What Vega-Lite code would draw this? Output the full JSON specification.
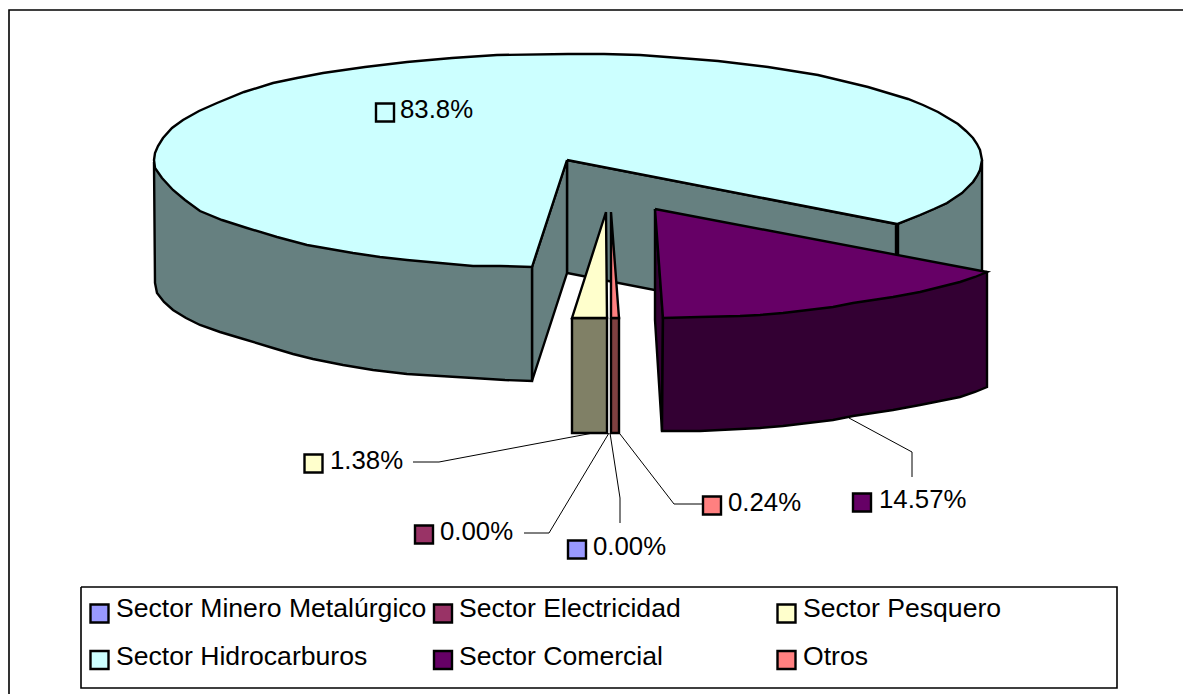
{
"$schema":"https://vega.github.io/schema/vega-lite/v6.json",
"width":1183,"height":694,
"autosize":{"type":"none"},
"padding":0,
"background":"white",
"config":{"view":{"stroke":null}},
"datasets":{
"pie":[
{"s":"a","f":"Hidrocarburos lateral","i":0,"x":898,"y":224},{"s":"a","f":"Hidrocarburos lateral","i":1,"x":920,"y":215},{"s":"a","f":"Hidrocarburos lateral","i":2,"x":947,"y":203},{"s":"a","f":"Hidrocarburos lateral","i":3,"x":973,"y":182},{"s":"a","f":"Hidrocarburos lateral","i":4,"x":980,"y":170},{"s":"a","f":"Hidrocarburos lateral","i":5,"x":982,"y":160},{"s":"a","f":"Hidrocarburos lateral","i":6,"x":982,"y":273},{"s":"a","f":"Hidrocarburos lateral","i":7,"x":973,"y":295},{"s":"a","f":"Hidrocarburos lateral","i":8,"x":947,"y":316},{"s":"a","f":"Hidrocarburos lateral","i":9,"x":920,"y":328},{"s":"a","f":"Hidrocarburos lateral","i":10,"x":898,"y":337},{"s":"a","f":"Hidrocarburos lateral","i":11,"x":898,"y":224},
{"s":"b","f":"Hidrocarburos lateral","i":0,"x":567,"y":160},{"s":"b","f":"Hidrocarburos lateral","i":1,"x":896,"y":224},{"s":"b","f":"Hidrocarburos lateral","i":2,"x":896,"y":337},{"s":"b","f":"Hidrocarburos lateral","i":3,"x":567,"y":273},{"s":"b","f":"Hidrocarburos lateral","i":4,"x":567,"y":160},
{"s":"c","f":"Hidrocarburos lateral","i":0,"x":532,"y":267},{"s":"c","f":"Hidrocarburos lateral","i":1,"x":567,"y":160},{"s":"c","f":"Hidrocarburos lateral","i":2,"x":567,"y":273},{"s":"c","f":"Hidrocarburos lateral","i":3,"x":532,"y":381},{"s":"c","f":"Hidrocarburos lateral","i":4,"x":532,"y":267},
{"s":"d","f":"Hidrocarburos lateral","i":0,"x":154,"y":162},{"s":"d","f":"Hidrocarburos lateral","i":1,"x":155,"y":283},{"s":"d","f":"Hidrocarburos lateral","i":2,"x":157,"y":293},{"s":"d","f":"Hidrocarburos lateral","i":3,"x":164,"y":302},{"s":"d","f":"Hidrocarburos lateral","i":4,"x":173,"y":310},{"s":"d","f":"Hidrocarburos lateral","i":5,"x":186,"y":318},{"s":"d","f":"Hidrocarburos lateral","i":6,"x":200,"y":325},{"s":"d","f":"Hidrocarburos lateral","i":7,"x":220,"y":332},{"s":"d","f":"Hidrocarburos lateral","i":8,"x":240,"y":338},{"s":"d","f":"Hidrocarburos lateral","i":9,"x":273,"y":348},{"s":"d","f":"Hidrocarburos lateral","i":10,"x":293,"y":354},{"s":"d","f":"Hidrocarburos lateral","i":11,"x":313,"y":359},{"s":"d","f":"Hidrocarburos lateral","i":12,"x":343,"y":365},{"s":"d","f":"Hidrocarburos lateral","i":13,"x":373,"y":370},{"s":"d","f":"Hidrocarburos lateral","i":14,"x":407,"y":374},{"s":"d","f":"Hidrocarburos lateral","i":15,"x":440,"y":376},{"s":"d","f":"Hidrocarburos lateral","i":16,"x":473,"y":378},{"s":"d","f":"Hidrocarburos lateral","i":17,"x":505,"y":380},{"s":"d","f":"Hidrocarburos lateral","i":18,"x":532,"y":381},{"s":"d","f":"Hidrocarburos lateral","i":19,"x":532,"y":267},{"s":"d","f":"Hidrocarburos lateral","i":20,"x":154,"y":162},
{"s":"e","f":"Sector Hidrocarburos","i":0,"x":567,"y":160},{"s":"e","f":"Sector Hidrocarburos","i":1,"x":532,"y":267},{"s":"e","f":"Sector Hidrocarburos","i":2,"x":500,"y":266},{"s":"e","f":"Sector Hidrocarburos","i":3,"x":473,"y":266},{"s":"e","f":"Sector Hidrocarburos","i":4,"x":440,"y":263},{"s":"e","f":"Sector Hidrocarburos","i":5,"x":407,"y":260},{"s":"e","f":"Sector Hidrocarburos","i":6,"x":380,"y":257},{"s":"e","f":"Sector Hidrocarburos","i":7,"x":353,"y":253},{"s":"e","f":"Sector Hidrocarburos","i":8,"x":330,"y":249},{"s":"e","f":"Sector Hidrocarburos","i":9,"x":307,"y":245},{"s":"e","f":"Sector Hidrocarburos","i":10,"x":277,"y":237},{"s":"e","f":"Sector Hidrocarburos","i":11,"x":247,"y":228},{"s":"e","f":"Sector Hidrocarburos","i":12,"x":222,"y":220},{"s":"e","f":"Sector Hidrocarburos","i":13,"x":200,"y":211},{"s":"e","f":"Sector Hidrocarburos","i":14,"x":185,"y":200},{"s":"e","f":"Sector Hidrocarburos","i":15,"x":173,"y":190},{"s":"e","f":"Sector Hidrocarburos","i":16,"x":162,"y":178},{"s":"e","f":"Sector Hidrocarburos","i":17,"x":155,"y":168},{"s":"e","f":"Sector Hidrocarburos","i":18,"x":154,"y":160},{"s":"e","f":"Sector Hidrocarburos","i":19,"x":155,"y":153},{"s":"e","f":"Sector Hidrocarburos","i":20,"x":158,"y":146},{"s":"e","f":"Sector Hidrocarburos","i":21,"x":163,"y":138},{"s":"e","f":"Sector Hidrocarburos","i":22,"x":172,"y":128},{"s":"e","f":"Sector Hidrocarburos","i":23,"x":183,"y":120},{"s":"e","f":"Sector Hidrocarburos","i":24,"x":199,"y":111},{"s":"e","f":"Sector Hidrocarburos","i":25,"x":217,"y":103},{"s":"e","f":"Sector Hidrocarburos","i":26,"x":244,"y":92},{"s":"e","f":"Sector Hidrocarburos","i":27,"x":273,"y":83},{"s":"e","f":"Sector Hidrocarburos","i":28,"x":297,"y":78},{"s":"e","f":"Sector Hidrocarburos","i":29,"x":323,"y":73},{"s":"e","f":"Sector Hidrocarburos","i":30,"x":365,"y":67},{"s":"e","f":"Sector Hidrocarburos","i":31,"x":407,"y":62},{"s":"e","f":"Sector Hidrocarburos","i":32,"x":452,"y":58},{"s":"e","f":"Sector Hidrocarburos","i":33,"x":497,"y":55},{"s":"e","f":"Sector Hidrocarburos","i":34,"x":568,"y":54},{"s":"e","f":"Sector Hidrocarburos","i":35,"x":604,"y":54},{"s":"e","f":"Sector Hidrocarburos","i":36,"x":640,"y":55},{"s":"e","f":"Sector Hidrocarburos","i":37,"x":680,"y":58},{"s":"e","f":"Sector Hidrocarburos","i":38,"x":718,"y":61},{"s":"e","f":"Sector Hidrocarburos","i":39,"x":743,"y":64},{"s":"e","f":"Sector Hidrocarburos","i":40,"x":768,"y":67},{"s":"e","f":"Sector Hidrocarburos","i":41,"x":793,"y":71},{"s":"e","f":"Sector Hidrocarburos","i":42,"x":818,"y":75},{"s":"e","f":"Sector Hidrocarburos","i":43,"x":843,"y":81},{"s":"e","f":"Sector Hidrocarburos","i":44,"x":868,"y":87},{"s":"e","f":"Sector Hidrocarburos","i":45,"x":888,"y":93},{"s":"e","f":"Sector Hidrocarburos","i":46,"x":908,"y":99},{"s":"e","f":"Sector Hidrocarburos","i":47,"x":923,"y":105},{"s":"e","f":"Sector Hidrocarburos","i":48,"x":938,"y":112},{"s":"e","f":"Sector Hidrocarburos","i":49,"x":948,"y":118},{"s":"e","f":"Sector Hidrocarburos","i":50,"x":958,"y":124},{"s":"e","f":"Sector Hidrocarburos","i":51,"x":966,"y":131},{"s":"e","f":"Sector Hidrocarburos","i":52,"x":973,"y":138},{"s":"e","f":"Sector Hidrocarburos","i":53,"x":977,"y":144},{"s":"e","f":"Sector Hidrocarburos","i":54,"x":980,"y":150},{"s":"e","f":"Sector Hidrocarburos","i":55,"x":982,"y":160},{"s":"e","f":"Sector Hidrocarburos","i":56,"x":980,"y":170},{"s":"e","f":"Sector Hidrocarburos","i":57,"x":977,"y":176},{"s":"e","f":"Sector Hidrocarburos","i":58,"x":973,"y":182},{"s":"e","f":"Sector Hidrocarburos","i":59,"x":962,"y":193},{"s":"e","f":"Sector Hidrocarburos","i":60,"x":947,"y":203},{"s":"e","f":"Sector Hidrocarburos","i":61,"x":934,"y":209},{"s":"e","f":"Sector Hidrocarburos","i":62,"x":920,"y":215},{"s":"e","f":"Sector Hidrocarburos","i":63,"x":897,"y":224},{"s":"e","f":"Sector Hidrocarburos","i":64,"x":567,"y":160},
{"s":"f","f":"Pesquero lateral","i":0,"x":572,"y":318},{"s":"f","f":"Pesquero lateral","i":1,"x":607,"y":318},{"s":"f","f":"Pesquero lateral","i":2,"x":607,"y":433},{"s":"f","f":"Pesquero lateral","i":3,"x":572,"y":433},{"s":"f","f":"Pesquero lateral","i":4,"x":572,"y":318},
{"s":"g","f":"Sector Pesquero","i":0,"x":606,"y":212},{"s":"g","f":"Sector Pesquero","i":1,"x":607,"y":318},{"s":"g","f":"Sector Pesquero","i":2,"x":572,"y":318},{"s":"g","f":"Sector Pesquero","i":3,"x":606,"y":212},
{"s":"h","f":"Otros lateral","i":0,"x":611,"y":318},{"s":"h","f":"Otros lateral","i":1,"x":619,"y":318},{"s":"h","f":"Otros lateral","i":2,"x":619,"y":433},{"s":"h","f":"Otros lateral","i":3,"x":611,"y":433},{"s":"h","f":"Otros lateral","i":4,"x":611,"y":318},
{"s":"j","f":"Otros","i":0,"x":611,"y":212},{"s":"j","f":"Otros","i":1,"x":619,"y":318},{"s":"j","f":"Otros","i":2,"x":611,"y":318},{"s":"j","f":"Otros","i":3,"x":611,"y":212},
{"s":"k","f":"Comercial lateral","i":0,"x":655,"y":209},{"s":"k","f":"Comercial lateral","i":1,"x":663,"y":318},{"s":"k","f":"Comercial lateral","i":2,"x":662,"y":431},{"s":"k","f":"Comercial lateral","i":3,"x":655,"y":320},{"s":"k","f":"Comercial lateral","i":4,"x":655,"y":209},
{"s":"l","f":"Comercial lateral","i":0,"x":987,"y":272},{"s":"l","f":"Comercial lateral","i":1,"x":987,"y":387},{"s":"l","f":"Comercial lateral","i":2,"x":975,"y":392},{"s":"l","f":"Comercial lateral","i":3,"x":960,"y":397},{"s":"l","f":"Comercial lateral","i":4,"x":940,"y":401},{"s":"l","f":"Comercial lateral","i":5,"x":920,"y":405},{"s":"l","f":"Comercial lateral","i":6,"x":893,"y":410},{"s":"l","f":"Comercial lateral","i":7,"x":873,"y":413},{"s":"l","f":"Comercial lateral","i":8,"x":853,"y":416},{"s":"l","f":"Comercial lateral","i":9,"x":833,"y":420},{"s":"l","f":"Comercial lateral","i":10,"x":808,"y":423},{"s":"l","f":"Comercial lateral","i":11,"x":783,"y":426},{"s":"l","f":"Comercial lateral","i":12,"x":760,"y":428},{"s":"l","f":"Comercial lateral","i":13,"x":740,"y":429},{"s":"l","f":"Comercial lateral","i":14,"x":700,"y":431},{"s":"l","f":"Comercial lateral","i":15,"x":662,"y":431},{"s":"l","f":"Comercial lateral","i":16,"x":663,"y":318},{"s":"l","f":"Comercial lateral","i":17,"x":987,"y":272},
{"s":"m","f":"Sector Comercial","i":0,"x":655,"y":209},{"s":"m","f":"Sector Comercial","i":1,"x":987,"y":272},{"s":"m","f":"Sector Comercial","i":2,"x":975,"y":277},{"s":"m","f":"Sector Comercial","i":3,"x":960,"y":282},{"s":"m","f":"Sector Comercial","i":4,"x":940,"y":287},{"s":"m","f":"Sector Comercial","i":5,"x":920,"y":292},{"s":"m","f":"Sector Comercial","i":6,"x":893,"y":297},{"s":"m","f":"Sector Comercial","i":7,"x":873,"y":300},{"s":"m","f":"Sector Comercial","i":8,"x":853,"y":303},{"s":"m","f":"Sector Comercial","i":9,"x":833,"y":307},{"s":"m","f":"Sector Comercial","i":10,"x":808,"y":310},{"s":"m","f":"Sector Comercial","i":11,"x":783,"y":313},{"s":"m","f":"Sector Comercial","i":12,"x":760,"y":315},{"s":"m","f":"Sector Comercial","i":13,"x":740,"y":316},{"s":"m","f":"Sector Comercial","i":14,"x":700,"y":317},{"s":"m","f":"Sector Comercial","i":15,"x":663,"y":318},{"s":"m","f":"Sector Comercial","i":16,"x":655,"y":209}
],
"leaders":[
{"s":"p","i":0,"x":413,"y":462},{"s":"p","i":1,"x":439,"y":462},{"s":"p","i":2,"x":593,"y":433},
{"s":"q","i":0,"x":524,"y":533},{"s":"q","i":1,"x":549,"y":533},{"s":"q","i":2,"x":609,"y":433},
{"s":"r","i":0,"x":620,"y":523},{"s":"r","i":1,"x":620,"y":498},{"s":"r","i":2,"x":610,"y":433},
{"s":"t","i":0,"x":702,"y":504},{"s":"t","i":1,"x":674,"y":504},{"s":"t","i":2,"x":620,"y":434},
{"s":"u","i":0,"x":849,"y":418},{"s":"u","i":1,"x":912,"y":452},{"s":"u","i":2,"x":912,"y":477}
],
"frames":[
{"s":"outer","i":0,"x":9,"y":694},{"s":"outer","i":1,"x":9,"y":10},{"s":"outer","i":2,"x":1183,"y":10},
{"s":"box","i":0,"x":81,"y":587},{"s":"box","i":1,"x":1117,"y":587},{"s":"box","i":2,"x":1117,"y":688},{"s":"box","i":3,"x":81,"y":688},{"s":"box","i":4,"x":81,"y":587}
],
"keys":[
{"kind":"dato","sector":"Sector Hidrocarburos","text":"83.8%","kx":385,"ky":112.5,"tx":400,"ty":118},
{"kind":"dato","sector":"Sector Pesquero","text":"1.38%","kx":313.5,"ky":463.5,"tx":330,"ty":469},
{"kind":"dato","sector":"Sector Electricidad","text":"0.00%","kx":424,"ky":534.5,"tx":440,"ty":540},
{"kind":"dato","sector":"Sector Minero Metalúrgico","text":"0.00%","kx":577,"ky":549.5,"tx":593,"ty":555},
{"kind":"dato","sector":"Otros","text":"0.24%","kx":712,"ky":505.5,"tx":728,"ty":511},
{"kind":"dato","sector":"Sector Comercial","text":"14.57%","kx":862,"ky":502.5,"tx":879,"ty":508},
{"kind":"leyenda","sector":"Sector Minero Metalúrgico","text":"Sector Minero Metalúrgico","kx":99.5,"ky":613.5,"tx":116,"ty":617},
{"kind":"leyenda","sector":"Sector Electricidad","text":"Sector Electricidad","kx":443,"ky":613.5,"tx":459,"ty":617},
{"kind":"leyenda","sector":"Sector Pesquero","text":"Sector Pesquero","kx":786.5,"ky":613.5,"tx":803,"ty":617},
{"kind":"leyenda","sector":"Sector Hidrocarburos","text":"Sector Hidrocarburos","kx":99.5,"ky":660,"tx":116,"ty":665},
{"kind":"leyenda","sector":"Sector Comercial","text":"Sector Comercial","kx":443,"ky":660,"tx":459,"ty":665},
{"kind":"leyenda","sector":"Otros","text":"Otros","kx":786.5,"ky":660,"tx":803,"ty":665}
]
},
"layer":[
{"data":{"name":"frames"},
 "mark":{"type":"line","stroke":"#000000","strokeWidth":1.6,"strokeJoin":"miter","clip":false},
 "encoding":{
  "x":{"field":"x","type":"quantitative","scale":{"domain":[0,1183],"nice":false,"zero":false},"axis":null},
  "y":{"field":"y","type":"quantitative","scale":{"domain":[694,0],"nice":false,"zero":false},"axis":null},
  "detail":{"field":"s"},"order":{"field":"i"}}},
{"data":{"name":"pie"},
 "mark":{"type":"line","stroke":"#000000","strokeWidth":2.4,"strokeJoin":"miter"},
 "encoding":{
  "x":{"field":"x","type":"quantitative","axis":null},
  "y":{"field":"y","type":"quantitative","axis":null},
  "detail":{"field":"s"},"order":{"field":"i"},
  "fill":{"field":"f","type":"nominal","legend":null,"scale":{
   "domain":["Sector Minero Metalúrgico","Sector Electricidad","Sector Pesquero","Sector Hidrocarburos","Sector Comercial","Otros","Hidrocarburos lateral","Pesquero lateral","Comercial lateral","Otros lateral"],
   "range":["#9999FF","#993366","#FFFFCC","#CCFFFF","#660066","#FF8080","#668080","#808066","#330033","#804040"]}}}},
{"data":{"name":"leaders"},
 "mark":{"type":"line","stroke":"#000000","strokeWidth":1},
 "encoding":{
  "x":{"field":"x","type":"quantitative","axis":null},
  "y":{"field":"y","type":"quantitative","axis":null},
  "detail":{"field":"s"},"order":{"field":"i"}}},
{"data":{"name":"keys"},
 "mark":{"type":"square","size":324,"stroke":"#000000","strokeWidth":2.4,"opacity":1,"filled":true},
 "encoding":{
  "x":{"field":"kx","type":"quantitative","axis":null},
  "y":{"field":"ky","type":"quantitative","axis":null},
  "fill":{"field":"sector","type":"nominal","legend":null}}},
{"data":{"name":"keys"},
 "transform":[{"filter":"datum.kind === 'leyenda'"}],
 "mark":{"type":"text","font":"Liberation Sans","fontSize":26.6,"align":"left","baseline":"alphabetic","fill":"#000000"},
 "encoding":{
  "x":{"field":"tx","type":"quantitative","axis":null},
  "y":{"field":"ty","type":"quantitative","axis":null},
  "text":{"field":"text"}}},
{"data":{"name":"keys"},
 "transform":[{"filter":"datum.kind === 'dato'"}],
 "mark":{"type":"text","font":"Liberation Sans","fontSize":25.8,"align":"left","baseline":"alphabetic","fill":"#000000"},
 "encoding":{
  "x":{"field":"tx","type":"quantitative","axis":null},
  "y":{"field":"ty","type":"quantitative","axis":null},
  "text":{"field":"text"}}}
]
}
